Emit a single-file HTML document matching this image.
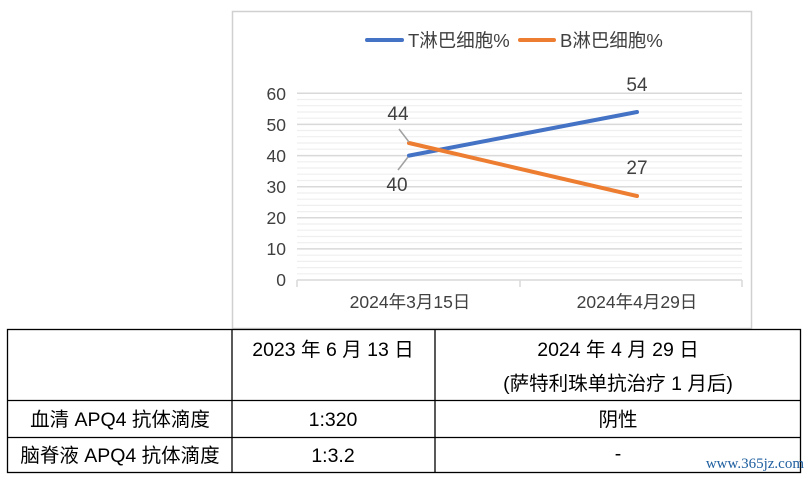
<!DOCTYPE html>
<html><head><meta charset="utf-8"><style>
body{margin:0;background:#fff;width:811px;height:477px;overflow:hidden;font-family:"Liberation Sans","Noto Sans CJK SC",sans-serif;}
</style></head><body>
<svg width="811" height="477" style="position:absolute;left:0;top:0" font-family="Liberation Sans, Noto Sans CJK SC, sans-serif">
<rect x="232.5" y="11.5" width="519" height="317" fill="#fff" stroke="#d0d0d0" stroke-width="1.5"/>
<g stroke="#efefef" stroke-width="1.2">
<path d="M297 99.5H742M297 105.7H742M297 112H742M297 118.2H742M297 130.5H742M297 136.7H742M297 143H742M297 149.2H742M297 161.8H742M297 168H742M297 174.2H742M297 180.5H742M297 193H742M297 199.2H742M297 205.4H742M297 211.6H742M297 224H742M297 230.2H742M297 236.5H742M297 242.7H742M297 255.2H742M297 261.4H742M297 267.6H742M297 273.8H742"/>
</g>
<g stroke="#d9d9d9" stroke-width="1.5">
<path d="M297 93.3H742M297 124.4H742M297 155.6H742M297 186.7H742M297 217.8H742M297 248.9H742M297 280H742"/>
<path d="M297 280V287M520 280V287M742 280V287"/>
</g>
<g font-size="17.5" fill="#404040" text-anchor="end">
<text x="286" y="100">60</text><text x="286" y="131">50</text><text x="286" y="162">40</text><text x="286" y="193">30</text><text x="286" y="224">20</text><text x="286" y="255">10</text><text x="286" y="286">0</text>
</g>
<g font-size="17.5" fill="#404040" text-anchor="middle">
<text x="410" y="308">2024年3月15日</text><text x="637" y="308">2024年4月29日</text>
</g>
<path d="M367 40H402" stroke="#4472c4" stroke-width="4" stroke-linecap="round"/>
<text x="408" y="47" font-size="18.5" fill="#404040">T淋巴细胞%</text>
<path d="M520 40H554" stroke="#ed7d31" stroke-width="4" stroke-linecap="round"/>
<text x="560" y="47" font-size="18.5" fill="#404040">B淋巴细胞%</text>
<path d="M409 155.6L637 112" stroke="#4472c4" stroke-width="4" stroke-linecap="round"/>
<path d="M409 143L637 196" stroke="#ed7d31" stroke-width="4" stroke-linecap="round"/>
<path d="M399 129L409 142M398 170L408 157" stroke="#a0a0a0" stroke-width="1.5"/>
<g font-size="19" fill="#404040" text-anchor="middle">
<text x="398" y="120">44</text><text x="397" y="191">40</text><text x="637" y="91">54</text><text x="637" y="174">27</text>
</g>
<g stroke="#000" stroke-width="1.3" fill="none">
<rect x="7.5" y="329.5" width="793" height="143"/>
<path d="M232 329.5V472.5M435 329.5V472.5M7.5 400.5H800.5M7.5 437.5H800.5"/>
</g>
<g font-size="19.5" fill="#000" text-anchor="middle">
<text x="333" y="356">2023 年 6 月 13 日</text>
<text x="618" y="356">2024 年 4 月 29 日</text>
<text x="618" y="390">(萨特利珠单抗治疗 1 月后)</text>
<text x="120" y="426">血清 APQ4 抗体滴度</text>
<text x="333" y="426">1:320</text>
<text x="618" y="426">阴性</text>
<text x="120" y="462">脑脊液 APQ4 抗体滴度</text>
<text x="333" y="462">1:3.2</text>
<text x="618" y="460">-</text>
</g>
<text x="804" y="468" font-size="15" fill="#1f5fa0" text-anchor="end" font-family="Liberation Serif, serif">www.365jz.com</text>
</svg>
</body></html>
